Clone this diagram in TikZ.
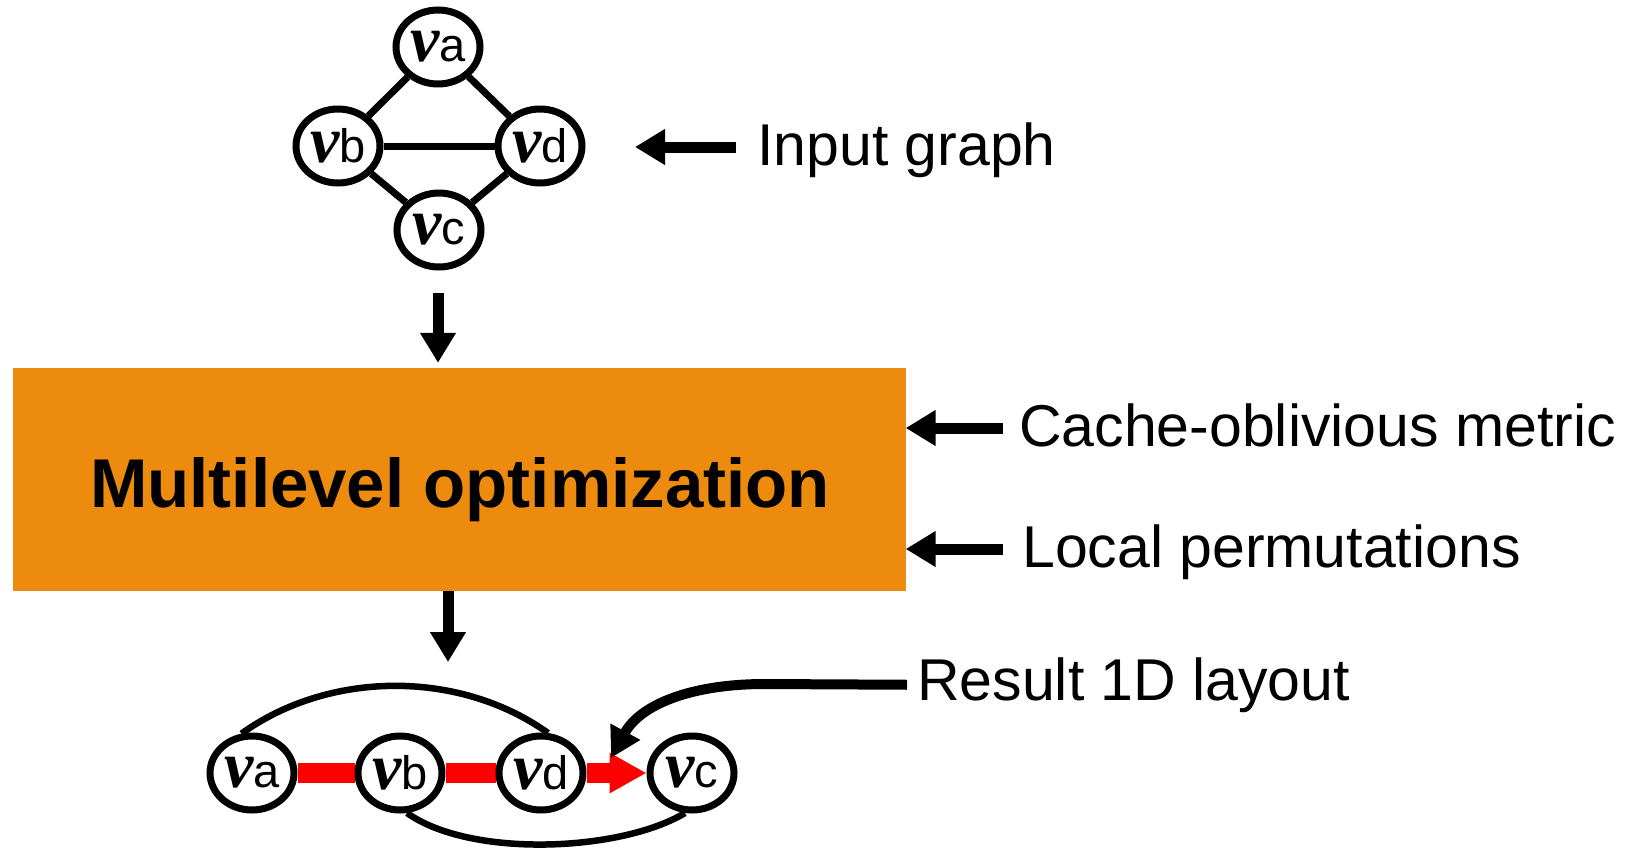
\documentclass[tikz,border=0pt]{standalone}
\usepackage{fontspec}
\setmainfont{Liberation Sans}
\newfontfamily\nufont{Liberation Serif}
\usetikzlibrary{arrows.meta,shapes.geometric,backgrounds}
\definecolor{optorange}{RGB}{237,139,14}
\definecolor{pathred}{RGB}{255,0,0}
% vertex label: italic nu followed by an upright letter
\newcommand\vlab[1]{{\fontsize{66}{66}\selectfont\nufont\bfseries\itshape ν}{\fontsize{47}{47}\selectfont #1}}

\begin{document}
\begin{tikzpicture}[x=1pt,y=-1pt,
  vtx/.style={draw, ellipse, line width=7pt, minimum width=84pt, minimum height=74pt, inner sep=0pt, fill=white},
  gedge/.style={line width=7pt},
  arc/.style={line width=6.5pt},
  hop/.style={line width=20pt, draw=pathred},
  blkarrow/.style={line width=11pt, -{Triangle[length=30pt,width=34pt]}},
  lbl/.style={anchor=base west, inner sep=0pt, font=\fontsize{59}{60}\selectfont},
]
\useasboundingbox (0,0) rectangle (1638,849);

% input graph
\node[vtx] (ta) at (438,47)  {\vlab{a}};
\node[vtx] (tb) at (338,146) {\vlab{b}};
\node[vtx] (td) at (540,146) {\vlab{d}};
\node[vtx] (tc) at (439,230) {\vlab{c}};
\begin{scope}[on background layer]
  \draw[gedge] (ta) -- (tb);
  \draw[gedge] (ta) -- (td);
  \draw[gedge] (tb) -- (td);
  \draw[gedge] (tb) -- (tc);
  \draw[gedge] (td) -- (tc);
\end{scope}

% optimization stage
\node[fill=optorange, minimum width=893pt, minimum height=223pt, inner sep=0pt] (opt) at (459,479.5) {};
\node[anchor=base, inner sep=0pt, font=\bfseries\fontsize{69}{70}\selectfont] (optlbl) at (460,507) {Multilevel optimization};

% side labels
\node[lbl] (ig) at (757,165) {Input graph};
\node[lbl] (cm) at (1019,446) {Cache-oblivious metric};
\node[lbl] (lp) at (1022,567) {Local permutations};
\node[lbl] (rl) at (917,700) {Result 1D layout};

\coordinate (igtail) at (736,147);
\coordinate (igtip) at (635,147);
\draw[blkarrow] (igtail) -- (igtip);
\coordinate (cmtail) at (1003,428);
\draw[blkarrow] (cmtail) -- (cmtail -| opt.east);
\coordinate (lptail) at (1003,549);
\draw[blkarrow] (lptail) -- (lptail -| opt.east);

% flow arrows
\coordinate (d1tail) at (438,293);
\draw[blkarrow, shorten >=5pt] (d1tail) -- (d1tail |- opt.north);
\coordinate (d2tip) at (448,662);
\draw[blkarrow] (opt.south -| d2tip) -- (d2tip);

% resulting 1D layout
\node[vtx] (ba) at (252,773) {\vlab{a}};
\node[vtx] (bb) at (400,773) {\vlab{b}};
\node[vtx] (bd) at (541,773) {\vlab{d}};
\node[vtx] (bc) at (692,773) {\vlab{c}};
\begin{scope}[on background layer]
  \draw[hop] (ba) -- (bb);
  \draw[hop] (bb) -- (bd);
  \draw[hop, -{Triangle[length=37pt,width=38pt]}] (bd) -- (bc);
  \draw[arc] (ba.105) .. controls (330,670) and (460,670) .. (bd.80);
  \draw[arc] (bb.-80) .. controls (470,858) and (620,852) .. (bc.-100);
\end{scope}

\coordinate (rltip) at (611,758);
\draw[line width=10pt, -{Triangle[length=30pt,width=32pt]}]
  ([xshift=-10pt]rl.west) -- (765,684) .. controls (690,684) and (640,705) .. (rltip);
\end{tikzpicture}
\end{document}
